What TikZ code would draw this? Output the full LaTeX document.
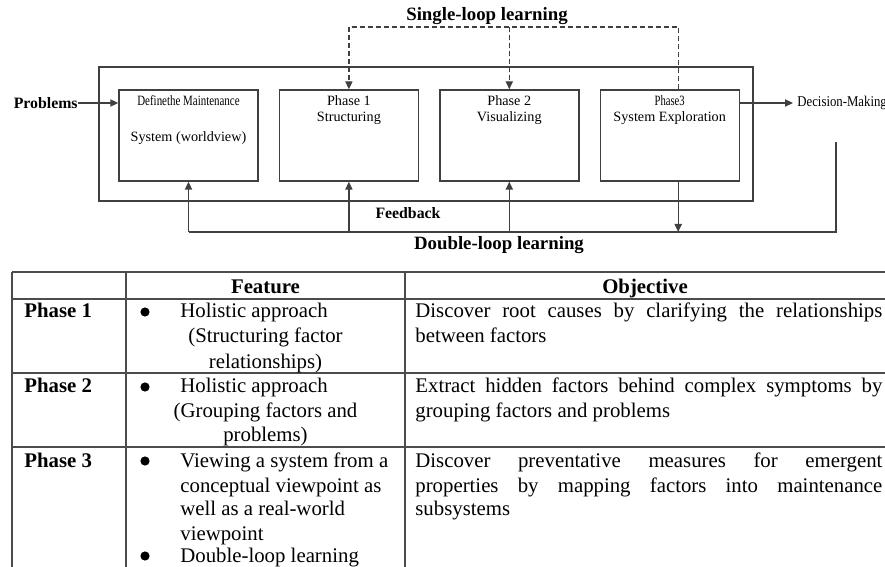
\documentclass[tikz,border=0pt]{standalone}
\usepackage{fontspec}
\setmainfont{Liberation Serif}
\usepackage{graphicx}
\usetikzlibrary{arrows.meta,positioning}

\newcommand{\justline}[1]{\makebox[233.5pt][s]{#1}}

\tikzset{
  diag/.style={line width=0.7pt, draw=black!75},
  phasebox/.style={diag, minimum width=69.5pt, minimum height=45.5pt, inner sep=0pt},
  boxtext/.style={font=\fontsize{7.1}{8}\selectfont, inner sep=0pt, anchor=base},
  looplabel/.style={font=\fontsize{9.4}{11}\selectfont\bfseries, inner sep=0pt},
  sidelabel/.style={font=\fontsize{7.9}{9}\selectfont\bfseries, inner sep=0pt},
  flowarrow/.style={diag, -{Triangle[length=4pt,width=3.6pt]}},
  singleloop/.style={flowarrow, dash pattern=on 2.5pt off 1.5pt},
  tabline/.style={line width=0.9pt, draw=black!70},
  cell/.style={font=\fontsize{10.4}{12.25}\selectfont, anchor=base west, inner sep=0pt},
  cellhead/.style={cell, font=\fontsize{10.4}{12.25}\selectfont\bfseries},
  bulletdot/.style={circle, fill=black, inner sep=0pt, minimum size=4.6pt}
}

\begin{document}
\begin{tikzpicture}[x=0.5pt, y=-0.5pt]
    \useasboundingbox (0,0) rectangle (885,567);

    % Process boxes
    \draw[diag] (99,67) rectangle (753,201);
    \node[phasebox] (define) at (188.5,135.5) {};
    \node[phasebox, right=10pt of define] (struct) {};
    \node[phasebox, right=10pt of struct] (visual) {};
    \node[phasebox, right=10pt of visual] (explore) {};

    % Box texts
    \node[boxtext] (define-1) at ([yshift=-8.25pt]define.north) {\scalebox{0.77}[1]{Definethe Maintenance}};
    \node[boxtext] (define-2) at ([yshift=-26.25pt]define.north) {System (worldview)};
    \foreach \ph/\first/\second in {struct/Phase 1/Structuring, visual/Phase 2/Visualizing, explore/{\scalebox{0.75}[1]{Phase3}}/System Exploration} {
        \node[boxtext] (\ph-1) at ([yshift=-8.25pt]\ph.north) {\first};
        \node[boxtext] (\ph-2) at ([yshift=-16.25pt]\ph.north) {\second};
    }

    % Single-loop learning
    \node[looplabel] (single) at (487,16) {Single-loop learning};
    \coordinate (explorerise) at ([xshift=4.25pt]explore.north);
    \coordinate (slpeak) at (explorerise |- 0,27);
    \draw[singleloop] (explorerise) -- (slpeak) -| (struct.north);
    \draw[singleloop] (slpeak -| visual.north) -- (visual.north);

    % Input and output
    \node[sidelabel, anchor=east] (problems) at (78,103) {Problems};
    \draw[flowarrow] (problems.east) -- (problems.east -| define.west);
    \node[boxtext, anchor=west] (decision) at (797,103) {\scalebox{0.9}[1.05]{Decision-Making}};
    \draw[flowarrow, shorten >=2pt] (decision.west -| explore.east) -- (decision.west);

    % Double-loop learning (feedback)
    \coordinate (dlstart) at (836,142);
    \coordinate (dlcorner) at (836,232);
    \draw[diag] (dlstart) -- (dlcorner) -- (dlcorner -| define.south);
    \foreach \ph in {define, struct, visual} {
        \draw[flowarrow] (dlcorner -| \ph.south) -- (\ph.south);
    }
    \coordinate (exploredrop) at ([xshift=4.25pt]explore.south);
    \draw[flowarrow] (exploredrop) -- (exploredrop |- dlcorner);
    \node[sidelabel] (feedback) at (408,213) {Feedback};
    \node[looplabel] (double) at (499,245) {Double-loop learning};

    % Table grid
    \foreach \y in {272,299,373,447} {
        \draw[tabline] (12,\y) -- (890,\y);
    }
    \foreach \x in {12,126,405} {
        \draw[tabline] (\x,272) -- (\x,570);
    }

    % Table header and row labels
    \node[cellhead, anchor=base] (feature) at (265.5,293) {Feature};
    \node[cellhead, anchor=base] (objective) at (645,293) {Objective};
    \foreach \n/\y in {1/318, 2/393, 3/467} {
        \node[cellhead] (phase\n) at (24,\y) {Phase \n};
    }

    % Feature column
    \foreach \n/\y in {1/312, 2/387, 3/461, 4/556} {
        \node[bulletdot] (bullet\n) at (145,\y) {};
    }
    \node[cell] (feat1a) at (180,318) {Holistic approach};
    \node[cell, anchor=base] (feat1b) at (265.5,343) {(Structuring factor};
    \node[cell, anchor=base] (feat1c) at (265.5,368) {relationships)};
    \node[cell] (feat2a) at (180,393) {Holistic approach};
    \node[cell, anchor=base] (feat2b) at (265.5,417) {(Grouping factors and};
    \node[cell, anchor=base] (feat2c) at (265.5,441) {problems)};
    \node[cell] (feat3a) at (180,467) {Viewing a system from a};
    \node[cell] (feat3b) at (180,492) {conceptual viewpoint as};
    \node[cell] (feat3c) at (180,515) {well as a real-world};
    \node[cell] (feat3d) at (180,540) {viewpoint};
    \node[cell] (feat3e) at (180,562) {Double-loop learning};

    % Objective column
    \node[cell] (obj1a) at (415,318) {\justline{Discover root causes by clarifying the relationships}};
    \node[cell] (obj1b) at (415,343) {between factors};
    \node[cell] (obj2a) at (415,393) {\justline{Extract hidden factors behind complex symptoms by}};
    \node[cell] (obj2b) at (415,417) {grouping factors and problems};
    \node[cell] (obj3a) at (415,467) {\justline{Discover preventative measures for emergent}};
    \node[cell] (obj3b) at (415,492) {\justline{properties by mapping factors into maintenance}};
    \node[cell] (obj3c) at (415,515) {subsystems};
\end{tikzpicture}
\end{document}
